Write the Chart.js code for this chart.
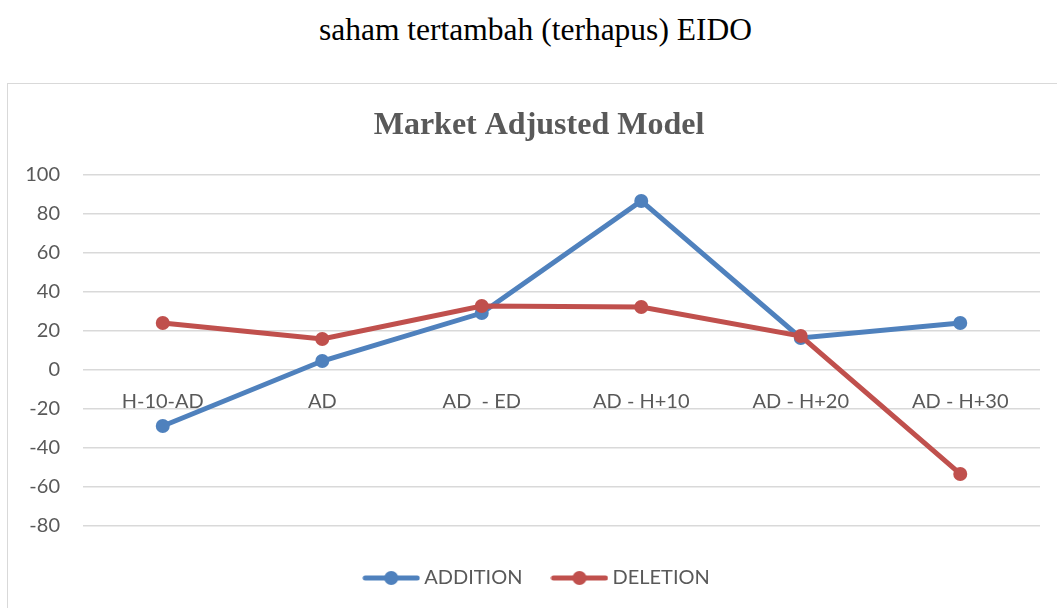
<!DOCTYPE html>
<html>
<head>
<meta charset="utf-8">
<script src="https://cdn.jsdelivr.net/npm/chart.js@4.4.1/dist/chart.umd.min.js"></script>
<style>
  body { margin: 0; background: #fff; width: 1057px; height: 608px; overflow: hidden; position: relative; }
  #pageTitle {
    position: absolute; top: 12px; left: 0; width: 1071px; text-align: center;
    font-family: "Liberation Serif", "Times New Roman", serif; font-size: 31.5px; line-height: 36px; color: #000;
  }
  #frame { position: absolute; left: 7px; top: 83px; width: 1070px; height: 540px; border: 1px solid #d9d9d9; }
  #chartWrapper { position: absolute; left: 8px; top: 84px; width: 1070px; height: 524px; }
</style>
</head>
<body>
<div id="pageTitle">saham tertambah (terhapus) EIDO</div>
<div id="frame"></div>
<div id="chartWrapper"><canvas id="myChart"></canvas></div>
<script>
const categories = ["H-10-AD", "AD", "AD  - ED", "AD - H+10", "AD - H+20", "AD - H+30"]
const additionValues = [-28.7, 4.6, 29.2, 86.7, 16.4, 24.1]
const deletionValues = [24.1, 15.9, 32.8, 32.3, 17.4, -53.3]
const yTicks = [100, 80, 60, 40, 20, 0, -20, -40, -60, -80]

const blue = "#4F81BD"
const red = "#C0504D"
const textGray = "#595959"
const labelFont = "Lato, 'Open Sans', sans-serif"

// legend marker: short line with a dot in the middle
function legendIcon(color) {
  const c = document.createElement("canvas")
  c.width = 58
  c.height = 16
  const g = c.getContext("2d")
  g.strokeStyle = color
  g.fillStyle = color
  g.lineWidth = 5
  g.lineCap = "round"
  g.beginPath()
  g.moveTo(3, 8)
  g.lineTo(55, 8)
  g.stroke()
  g.beginPath()
  g.arc(29, 8, 7, 0, Math.PI * 2)
  g.fill()
  return c
}
const icons = [legendIcon(blue), legendIcon(red)]

const ctx = document.querySelector("#myChart")

new Chart(ctx, {
  type: "line",
  data: {
    labels: categories,
    datasets: [
      {
        label: "ADDITION",
        data: additionValues,
        borderColor: blue,
        backgroundColor: blue,
        borderWidth: 5,
        pointRadius: 7,
        pointHoverRadius: 7,
        pointBorderWidth: 0,
        order: 1,
      },
      {
        label: "DELETION",
        data: deletionValues,
        borderColor: red,
        backgroundColor: red,
        borderWidth: 5,
        pointRadius: 7,
        pointHoverRadius: 7,
        pointBorderWidth: 0,
        order: 0,
      },
    ],
  },
  options: {
    responsive: true,
    maintainAspectRatio: false,
    animation: false,
    layout: { padding: { top: 0, left: 0, right: 8, bottom: 10 } },
    plugins: {
      tooltip: { enabled: false },
      title: {
        display: true,
        text: "Market Adjusted Model",
        color: textGray,
        font: { family: "'Liberation Serif', 'Times New Roman', serif", size: 32, weight: "bold", lineHeight: 1.2 },
        padding: { top: 22.6, bottom: 30 },
      },
      legend: {
        position: "bottom",
        title: { display: true, text: "", font: { size: 5, lineHeight: 1.2 }, padding: { top: 2, bottom: 0 } },
        labels: {
          color: textGray,
          font: { family: labelFont, size: 20 },
          padding: 34,
          usePointStyle: true,
          pointStyleWidth: 46,
          boxHeight: 18,
          generateLabels(chart) {
            return chart.data.datasets.map((ds, i) => ({
              text: ds.label,
              fillStyle: ds.borderColor,
              strokeStyle: ds.borderColor,
              fontColor: textGray,
              lineWidth: 0,
              pointStyle: icons[i],
              hidden: false,
              datasetIndex: i,
            }))
          },
        },
      },
    },
    scales: {
      x: {
        position: { y: 0 },
        offset: true,
        grid: { display: false, drawTicks: false },
        border: { display: false },
        ticks: {
          color: textGray,
          font: { family: labelFont, size: 20 },
          padding: 20,
          maxRotation: 0,
          autoSkip: false,
        },
      },
      y: {
        min: yTicks[yTicks.length - 1],
        max: yTicks[0],
        afterFit(scale) {
          scale.width = 75
        },
        grid: { color: "#d9d9d9", lineWidth: 1.5, drawTicks: false },
        border: { display: false },
        ticks: {
          stepSize: yTicks[0] - yTicks[1],
          color: textGray,
          font: { family: labelFont, size: 20 },
          padding: 23,
        },
      },
      // empty right-hand margin, keeps the plot width like the original
      yRight: {
        position: "right",
        min: yTicks[yTicks.length - 1],
        max: yTicks[0],
        afterFit(scale) {
          scale.width = 30
        },
        grid: { display: false },
        border: { display: false },
        ticks: { display: false },
      },
    },
  },
})
</script>
</body>
</html>
